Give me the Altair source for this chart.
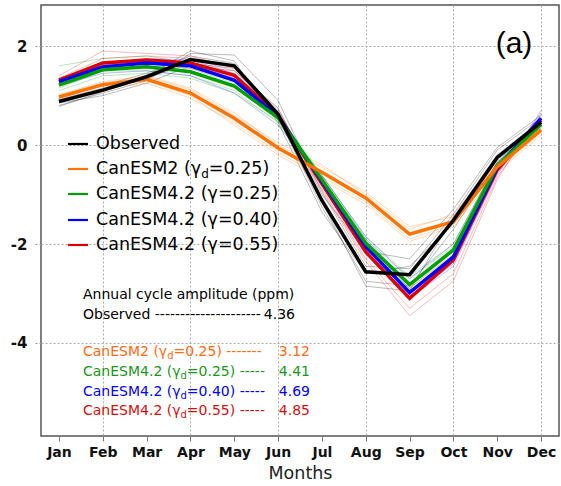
import altair as alt
import pandas as pd

# ---------------- data ----------------
month_names = ["Jan", "Feb", "Mar", "Apr", "May", "Jun", "Jul", "Aug", "Sep", "Oct", "Nov", "Dec"]
months = list(range(1, 13))

obs = [0.88, 1.11, 1.38, 1.73, 1.60, 0.62, -1.12, -2.56, -2.62, -1.52, -0.25, 0.46]
can2 = [0.97, 1.22, 1.33, 1.05, 0.54, -0.06, -0.55, -1.07, -1.80, -1.55, -0.44, 0.30]
g025 = [1.21, 1.52, 1.58, 1.48, 1.19, 0.55, -0.70, -1.98, -2.82, -2.12, -0.42, 0.42]
g040 = [1.28, 1.58, 1.66, 1.60, 1.31, 0.58, -0.73, -2.05, -2.98, -2.26, -0.46, 0.54]
g055 = [1.31, 1.66, 1.72, 1.66, 1.41, 0.60, -0.78, -2.16, -3.10, -2.32, -0.50, 0.50]

obs_m1 = [0.80, 1.05, 1.30, 1.85, 1.82, 0.90, -0.95, -2.45, -2.50, -1.40, -0.10, 0.55]
obs_m2 = [0.95, 1.20, 1.45, 1.80, 1.65, 0.55, -1.25, -2.75, -2.85, -1.70, -0.35, 0.40]
obs_m3 = [0.85, 1.00, 1.25, 1.60, 1.50, 0.75, -1.00, -2.15, -2.30, -1.30, -0.05, 0.60]
obs_m4 = [0.92, 1.15, 1.40, 1.90, 1.70, 0.45, -1.35, -2.60, -2.45, -1.60, -0.30, 0.35]
obs_m5 = [0.78, 1.08, 1.35, 1.65, 1.55, 0.60, -1.15, -2.85, -2.95, -1.45, -0.20, 0.50]

c2_m1 = [0.90, 1.15, 1.25, 0.95, 0.45, -0.15, -0.65, -1.15, -1.90, -1.60, -0.50, 0.25]
c2_m2 = [1.02, 1.28, 1.40, 1.15, 0.65, 0.00, -0.45, -0.95, -1.65, -1.45, -0.38, 0.35]
c2_m3 = [0.95, 1.20, 1.30, 1.00, 0.40, -0.20, -0.70, -1.20, -1.95, -1.65, -0.55, 0.20]
c2_m4 = [1.00, 1.25, 1.38, 1.12, 0.60, 0.05, -0.40, -1.00, -1.70, -1.40, -0.35, 0.38]

g25_m1 = [1.60, 1.75, 1.80, 1.65, 1.30, 0.58, -0.62, -1.85, -2.65, -2.00, -0.35, 0.50]
g25_m2 = [1.10, 1.40, 1.45, 1.35, 1.05, 0.48, -0.78, -2.10, -2.95, -2.25, -0.50, 0.35]
g25_m3 = [1.25, 1.55, 1.65, 1.55, 1.25, 0.62, -0.60, -1.90, -2.70, -2.05, -0.40, 0.45]
g25_m4 = [1.15, 1.50, 1.50, 1.40, 1.10, 0.45, -0.75, -2.05, -2.90, -2.15, -0.45, 0.40]

g40_m1 = [1.20, 1.45, 1.50, 1.40, 1.05, 0.40, -0.68, -1.90, -2.80, -2.10, -0.40, 0.50]
g40_m2 = [1.35, 1.65, 1.75, 1.72, 1.45, 0.68, -0.78, -2.15, -3.05, -2.40, -0.55, 0.60]
g40_m3 = [1.25, 1.55, 1.60, 1.50, 1.20, 0.52, -0.62, -1.85, -2.70, -2.00, -0.35, 0.45]
g40_m4 = [1.30, 1.60, 1.70, 1.65, 1.35, 0.62, -0.82, -2.20, -3.10, -2.45, -0.60, 0.65]

g55_m1 = [1.40, 1.90, 1.85, 1.80, 1.55, 0.72, -0.88, -2.30, -3.30, -2.60, -0.65, 0.55]
g55_m2 = [1.25, 1.60, 1.65, 1.55, 1.30, 0.52, -0.72, -2.05, -2.90, -2.20, -0.45, 0.45]
g55_m3 = [1.35, 1.75, 1.80, 1.75, 1.50, 0.67, -0.92, -2.35, -3.45, -2.75, -0.70, 0.70]
g55_m4 = [1.28, 1.62, 1.70, 1.62, 1.35, 0.57, -0.78, -2.10, -3.00, -2.30, -0.50, 0.48]

groups = ["obs", "can2", "g025", "g040", "g055"]
line_colors = ["#000000", "#ff7300", "#00a000", "#0000ff", "#dd0000"]
text_colors = ["#000000", "#ff6a13", "#1a961a", "#0000ff", "#cc1111"]

thick = {"obs": obs, "can2": can2, "g025": g025, "g040": g040, "g055": g055}
members = {
    "obs": [obs_m1, obs_m2, obs_m3, obs_m4, obs_m5],
    "can2": [c2_m1, c2_m2, c2_m3, c2_m4],
    "g025": [g25_m1, g25_m2, g25_m3, g25_m4],
    "g040": [g40_m1, g40_m2, g40_m3, g40_m4],
    "g055": [g55_m1, g55_m2, g55_m3, g55_m4],
}

amplitudes = ["4.36", "3.12", "4.41", "4.69", "4.85"]

# ---------------- tables ----------------
rows_thin = []
for g, mlist in members.items():
    for i, m in enumerate(mlist):
        for mo, v in zip(months, m):
            rows_thin.append({"group": g, "member": f"{g}_{i}", "month": mo, "value": v})
df_thin = pd.DataFrame(rows_thin)

rows_thick = []
for g, vals in thick.items():
    for mo, v in zip(months, vals):
        rows_thick.append({"group": g, "month": mo, "value": v})
df_thick = pd.DataFrame(rows_thick)

# ---------------- layout ----------------
W, H = 518, 431
OX, OY = 41, 5
FONT = "DejaVu Sans"

label_expr = "[" + ",".join(f"'{m}'" for m in month_names) + "][datum.value - 1]"

x_enc = alt.X(
    "month:Q",
    scale=alt.Scale(domain=[0.59, 12.41], nice=False, zero=False),
    axis=alt.Axis(
        values=months,
        labelExpr=label_expr,
        title="Months",
        titleFont=FONT,
        titleFontSize=17.5,
        titleFontWeight="normal",
        titleColor="#222",
        titlePadding=5,
        labelFont=FONT,
        labelFontSize=14,
        labelFontWeight="bold",
        labelColor="#111",
        labelPadding=4,
        tickSize=5,
        tickColor="#777",
        domain=False,
        grid=True,
        gridColor="#aaaaaa",
        gridDash=[2, 2],
        gridOpacity={"condition": {"test": "datum.value % 2 === 0", "value": 1}, "value": 0},
    ),
)
y_enc = alt.Y(
    "value:Q",
    scale=alt.Scale(domain=[-5.88, 2.83], nice=False, zero=False),
    axis=alt.Axis(
        values=[-4, -2, 0, 2],
        labelExpr="'' + datum.value",
        title=None,
        labelFont=FONT,
        labelFontSize=15,
        labelFontWeight="bold",
        labelColor="#111",
        labelPadding=6,
        tickSize=8,
        tickColor="#999",
        tickDash=[2, 2],
        domain=False,
        grid=True,
        gridColor="#aaaaaa",
        gridDash=[2, 2],
    ),
)

color_scale = alt.Scale(domain=groups, range=line_colors)

thin_layer = alt.Chart(df_thin).mark_line(strokeWidth=0.9, opacity=0.3).encode(
    x=x_enc,
    y=y_enc,
    color=alt.Color("group:N", scale=color_scale, legend=None),
    detail="member:N",
)

layers = [thin_layer]
for g in ["g055", "g040", "g025", "can2", "obs"]:
    c = line_colors[groups.index(g)]
    layers.append(
        alt.Chart(df_thick)
        .transform_filter(alt.datum.group == g)
        .mark_line(strokeWidth=3.5, color=c)
        .encode(x="month:Q", y="value:Q")
    )

dummy = pd.DataFrame({"a": [0]})


def txt(s, px, py, color="#000", size=14, align="left", font=FONT):
    return (
        alt.Chart(dummy)
        .mark_text(text=s, color=color, fontSize=size, align=align, baseline="middle", font=font)
        .encode(x=alt.value(px - OX), y=alt.value(py - OY))
    )


def seg(x1, x2, py, color):
    return (
        alt.Chart(dummy)
        .mark_rule(color=color, strokeWidth=2.2)
        .encode(x=alt.value(x1 - OX), x2=alt.value(x2 - OX), y=alt.value(py - OY))
    )


# panel label
layers.append(txt("(a)", 514, 44, size=30, align="center", font="Liberation Sans"))

# legend
LS = 17.5
leg_y = [144, 169, 194, 220, 245]
for i, g in enumerate(groups):
    layers.append(seg(68, 88, leg_y[i], line_colors[i]))
layers.append(txt("Observed", 96, leg_y[0], size=LS))
layers.append(txt("CanESM2 (γ", 96, leg_y[1], size=LS))
layers.append(txt("d", 96 + 6.011 * LS, leg_y[1] + 5, size=12))
layers.append(txt("=0.25)", 96 + 6.011 * LS + 0.635 * 12, leg_y[1], size=LS))
layers.append(txt("CanESM4.2 (γ=0.25)", 96, leg_y[2], size=LS))
layers.append(txt("CanESM4.2 (γ=0.40)", 96, leg_y[3], size=LS))
layers.append(txt("CanESM4.2 (γ=0.55)", 96, leg_y[4], size=LS))

# amplitude annotation
AS = 14
SS = 10
layers.append(txt("Annual cycle amplitude (ppm)", 83, 295, size=AS))
layers.append(txt("Observed " + "-" * 21, 83, 315, size=AS))
layers.append(txt(amplitudes[0], 295, 315, size=AS, align="right"))

ann_y = [352, 372, 392, 411]
prefixes = ["CanESM2 (γ", "CanESM4.2 (γ", "CanESM4.2 (γ", "CanESM4.2 (γ"]
prefix_em = [6.011, 6.965, 6.965, 6.965]
suffixes = ["=0.25) -------", "=0.25) -----", "=0.40) -----", "=0.55) -----"]
for i in range(4):
    col = text_colors[i + 1]
    yy = ann_y[i]
    x_d = 83 + prefix_em[i] * AS
    layers.append(txt(prefixes[i], 83, yy, color=col, size=AS))
    layers.append(txt("d", x_d, yy + 4, color=col, size=SS))
    layers.append(txt(suffixes[i], x_d + 0.635 * SS, yy, color=col, size=AS))
    layers.append(txt(amplitudes[i + 1], 310, yy, color=col, size=AS, align="right"))

chart = (
    alt.layer(*layers)
    .properties(
        width=W,
        height=H,
        autosize="none",
        padding={"left": OX, "top": OY, "right": 561 - OX - W, "bottom": 486 - OY - H},
        background="white",
    )
    .configure_view(stroke="#555555", strokeWidth=1.5)
)

chart.save("out.html", embed_options={"renderer": "svg", "actions": False})
